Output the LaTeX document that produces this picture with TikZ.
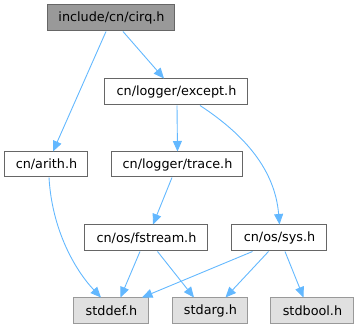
\documentclass[tikz,border=0pt]{standalone}
\usepackage{fontspec}
\setmainfont{DejaVu Sans}
\usetikzlibrary{arrows.meta}
\definecolor{edgeblue}{HTML}{63B8FF}
\definecolor{boxline}{HTML}{666666}
\definecolor{extline}{HTML}{999999}
\definecolor{extfill}{HTML}{E0E0E0}
\definecolor{mainfill}{HTML}{999999}
\begin{document}
\begin{tikzpicture}[x=1pt,y=-1pt,
  file/.style={draw=boxline,fill=white,line width=1pt,inner sep=0pt,
    font=\fontsize{12.8}{14}\selectfont,minimum height=26pt},
  mainfile/.style={file,fill=mainfill},
  sysfile/.style={file,draw=extline,fill=extfill},
  dep/.style={draw=edgeblue,line width=0.9pt,
    -{Triangle[length=10.5pt,width=9pt]}}]
\useasboundingbox (0,0) rectangle (360,329);
% header files
\node[mainfile,minimum width=127pt] (cirq) at (111.5,18) {include/cn/cirq.h};
\node[file,minimum width=143pt] (except) at (176.5,92) {cn/logger/except.h};
\node[file,minimum width=83pt,minimum height=25pt] (arith) at (46.5,164.5) {cn/arith.h};
\node[file,minimum width=131pt,minimum height=25pt] (trace) at (177.5,164.5) {cn/logger/trace.h};
\node[file,minimum width=123pt] (fstream) at (146.5,238) {cn/os/fstream.h};
\node[file,minimum width=95pt] (sys) at (279.5,238) {cn/os/sys.h};
% system headers
\node[sysfile,minimum width=75pt] (stddef) at (111.5,311) {stddef.h};
\node[sysfile,minimum width=75pt] (stdarg) at (210.5,311) {stdarg.h};
\node[sysfile,minimum width=83pt] (stdbool) at (312.5,311) {stdbool.h};
% include edges
\draw[dep] ([xshift=-5.5pt]cirq.south) -- ([xshift=6.5pt]arith.north);
\draw[dep] ([xshift=11.5pt]cirq.south) -- ([xshift=-12.5pt]except.north);
\draw[dep] ([xshift=0.5pt]except.south) -- (trace.north);
\draw[dep] ([xshift=23.5pt]except.south) .. controls (245,135) and (275,170) .. (sys.north);
\draw[dep] ([xshift=2.5pt]arith.south) .. controls (52,230) and (75,270) .. ([xshift=-10.5pt]stddef.north);
\draw[dep] ([xshift=-5.5pt]trace.south) -- ([xshift=6.5pt]fstream.north);
\draw[dep] ([xshift=-6.5pt]fstream.south) -- ([xshift=9pt]stddef.north);
\draw[dep] ([xshift=11pt]fstream.south) -- ([xshift=-16.5pt]stdarg.north);
\draw[dep] ([xshift=-27pt]sys.south) -- ([xshift=30.5pt]stddef.north);
\draw[dep] ([xshift=-11pt]sys.south) -- ([xshift=15pt]stdarg.north);
\draw[dep] ([xshift=5.5pt]sys.south) -- ([xshift=-9pt]stdbool.north);
\end{tikzpicture}
\end{document}
